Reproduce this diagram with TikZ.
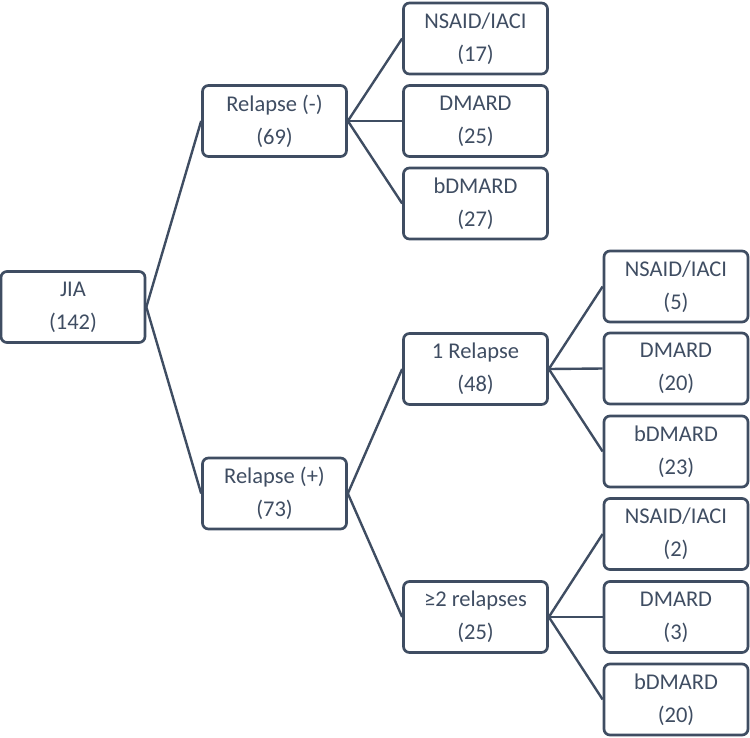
\documentclass[tikz,border=0pt]{standalone}
\usepackage{fontspec}
\setmainfont{Carlito}
\definecolor{slate}{HTML}{3F4D62}
\begin{document}
\begin{tikzpicture}[x=1pt,y=-1pt,
  box/.style={draw=slate, line width=2.7pt, rounded corners=6pt, minimum width=144pt, minimum height=71pt, inner sep=0pt, align=center, text=slate, font=\fontsize{22.5}{33}\selectfont},
  link/.style={draw=slate, line width=2.4pt}]
\useasboundingbox (0,0) rectangle (750,737);
\node[box] (jia) at (73,307) {JIA\\(142)};
\node[box] (rneg) at (274.5,121) {Relapse (-)\\(69)};
\node[box] (n17) at (475.5,38.5) {NSAID/IACI\\(17)};
\node[box] (d25) at (475.5,121) {DMARD\\(25)};
\node[box] (b27) at (475.5,203.5) {bDMARD\\(27)};
\node[box] (rpos) at (274.5,493.5) {Relapse (+)\\(73)};
\node[box] (one) at (475.5,369) {1 Relapse\\(48)};
\node[box] (two) at (475.5,617) {≥2 relapses\\(25)};
\node[box] (n5) at (676,286.5) {NSAID/IACI\\(5)};
\node[box] (d20) at (676,368.5) {DMARD\\(20)};
\node[box] (b23) at (676,451.5) {bDMARD\\(23)};
\node[box] (n2) at (676,534) {NSAID/IACI\\(2)};
\node[box] (d3) at (676,617) {DMARD\\(3)};
\node[box] (b20) at (676,699.5) {bDMARD\\(20)};
\draw[link] (jia.east) -- (rneg.west);
\draw[link] (jia.east) -- (rpos.west);
\draw[link] (rneg.east) -- (n17.west);
\draw[link] (rneg.east) -- (d25.west);
\draw[link] (rneg.east) -- (b27.west);
\draw[link] (rpos.east) -- (one.west);
\draw[link] (rpos.east) -- (two.west);
\draw[link] (one.east) -- (n5.west);
\draw[link] (one.east) -- (d20.west);
\draw[link] (one.east) -- (b23.west);
\draw[link] (two.east) -- (n2.west);
\draw[link] (two.east) -- (d3.west);
\draw[link] (two.east) -- (b20.west);
\end{tikzpicture}
\end{document}
